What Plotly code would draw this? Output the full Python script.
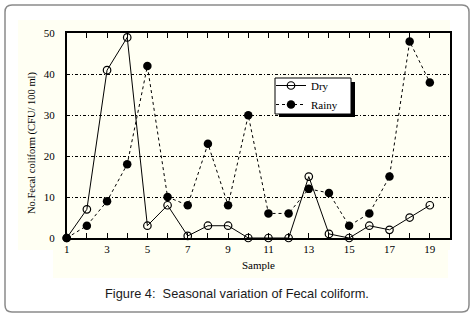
import plotly.graph_objects as go

samples = list(range(1, 20))
dry = [0, 7, 41, 49, 3, 8, 0.5, 3, 3, 0, 0, 0, 15, 1, 0, 3, 2, 5, 8]
rainy = [0, 3, 9, 18, 42, 10, 8, 23, 8, 30, 6, 6, 12, 11, 3, 6, 15, 48, 38]
x_tick_vals = list(range(1, 21))
x_tick_text = [str(v) if v % 2 == 1 and v < 20 else "" for v in x_tick_vals]
y_tick_vals = [0, 10, 20, 30, 40, 50]

W, H = 474, 318
def px(x): return x / W
def py(y): return 1 - y / H

serif = "Liberation Serif"

fig = go.Figure()
fig.add_trace(go.Scatter(
    x=samples, y=dry, name="Dry", mode="lines+markers",
    line=dict(color="black", width=1, dash="solid"),
    marker=dict(symbol="circle-open", size=7.5, color="black", line=dict(width=1.2)),
    cliponaxis=False,
))
fig.add_trace(go.Scatter(
    x=samples, y=rainy, name="Rainy", mode="lines+markers",
    line=dict(color="black", width=1, dash="dot"),
    marker=dict(symbol="circle", size=8.5, color="black"),
    cliponaxis=False,
))

x0, x1 = px(66.7), px(450)
y0, y1 = py(238), py(33.3)

def ann(text, x, y, size=11, family=serif, color="black", angle=0):
    return dict(text=text, x=px(x), y=py(y), xref="paper", yref="paper",
                xanchor="center", yanchor="middle", showarrow=False, textangle=angle,
                font=dict(family=family, size=size, color=color))

fig.update_layout(
    width=W, height=H,
    margin=dict(l=0, r=0, t=0, b=0, autoexpand=False),
    paper_bgcolor="white", plot_bgcolor="white",
    showlegend=True,
    legend=dict(
        x=px(271), y=py(71), xanchor="left", yanchor="top",
        bgcolor="rgba(0,0,0,0)", borderwidth=0,
        font=dict(family=serif, size=11, color="black"),
        tracegroupgap=0, itemwidth=30,
    ),
    xaxis=dict(
        domain=[x0, x1], range=[1, 20], automargin=False,
        tickvals=x_tick_vals, ticktext=x_tick_text,
        ticks="inside", ticklen=5, tickcolor="black", tickwidth=1,
        showline=True, linecolor="black", linewidth=1.5, mirror="ticks",
        showgrid=False, zeroline=False,
        tickfont=dict(family=serif, size=11, color="black"),
    ),
    yaxis=dict(
        domain=[y0, y1], range=[0, 50], automargin=False,
        tickvals=y_tick_vals, ticks="",
        showline=True, linecolor="black", linewidth=1.5, mirror=True,
        showgrid=True, gridcolor="black", gridwidth=1, griddash="3px,2px,1px,2px",
        zeroline=False, ticklabelstandoff=8,
        tickfont=dict(family=serif, size=11, color="black"),
    ),
    annotations=[
        ann("Sample", 258, 265),
        ann("No.Fecal coliform (CFU/ 100 ml)", 32, 143, size=10.5, angle=-90),
        ann("Figure 4:  Seasonal variation of Fecal coliform.", 237, 293,
            size=12.8, family="Liberation Sans", color="#1a1a1a"),
    ],
    shapes=[
        dict(type="rect", xref="paper", yref="paper", x0=px(18), x1=px(450), y0=py(250), y1=py(20),
             fillcolor="#fffff3", line=dict(width=0), layer="below"),
        dict(type="rect", xref="paper", yref="paper", x0=px(53), x1=px(448), y0=py(278), y1=py(250),
             fillcolor="#fffff3", line=dict(width=0), layer="below"),
        dict(type="path", xref="paper", yref="paper",
             path=(f"M {px(12)},{py(5)} L {px(462)},{py(5)} Q {px(469)},{py(5)} {px(469)},{py(12)} "
                   f"L {px(469)},{py(305)} Q {px(469)},{py(312)} {px(462)},{py(312)} "
                   f"L {px(12)},{py(312)} Q {px(5)},{py(312)} {px(5)},{py(305)} "
                   f"L {px(5)},{py(12)} Q {px(5)},{py(5)} {px(12)},{py(5)} Z"),
             line=dict(color="#8a8a8a", width=1.5), layer="below"),
        # legend shadow and box
        dict(type="rect", xref="paper", yref="paper", x0=px(279), x1=px(355), y0=py(117), y1=py(82),
             fillcolor="black", line=dict(width=0), layer="above"),
        dict(type="rect", xref="paper", yref="paper", x0=px(275), x1=px(351), y0=py(114), y1=py(78),
             fillcolor="white", line=dict(width=1, color="black"), layer="above"),
    ],
)

fig.write_html("out.html", config={"displayModeBar": False},
               post_script="document.body.style.margin='0';document.body.style.overflow='hidden';")
